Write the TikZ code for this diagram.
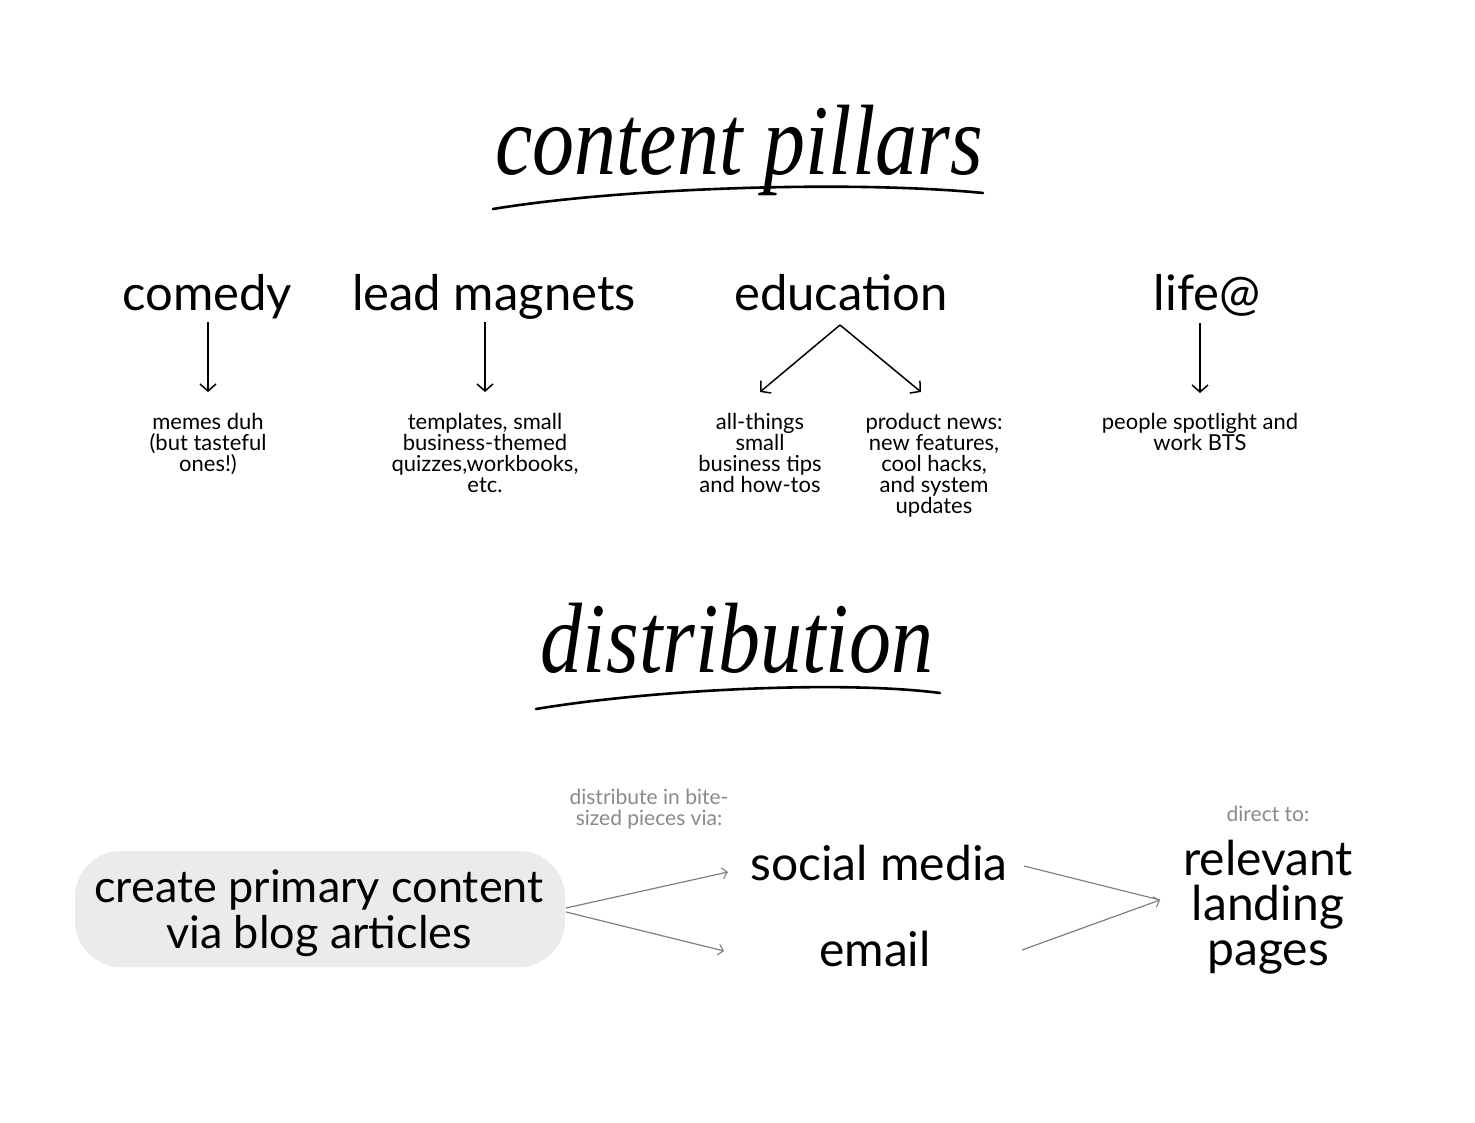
\documentclass[tikz,border=0pt]{standalone}
\usepackage{fontspec}
\setmainfont{Liberation Serif}
\newfontfamily\uifont{Lato}
\usetikzlibrary{arrows.meta}
\definecolor{boxgrey}{HTML}{EBEBEB}
\definecolor{linegrey}{HTML}{808080}
\definecolor{labelgrey}{HTML}{8A8A8A}
\tikzset{
  titletext/.style={font=\fontsize{100}{110}\selectfont\itshape, inner sep=0pt, anchor=base},
  pillar/.style={font=\uifont\fontsize{49}{52}\selectfont, inner sep=0pt, anchor=base},
  subtext/.style={font=\uifont\fontsize{22}{21}\selectfont, inner sep=0pt, align=center, anchor=north},
  greytext/.style={font=\uifont\fontsize{21}{21}\selectfont, text=labelgrey, inner sep=0pt, align=center, anchor=north},
  bigtext/.style={font=\uifont\fontsize{48}{45}\selectfont, inner sep=0pt, align=center},
  blogtext/.style={font=\uifont\fontsize{45}{46}\selectfont, inner sep=0pt, align=center},
  darrow/.style={draw=black, line width=1.5pt, -{Straight Barb[length=7pt,width=16pt,line width=1.5pt]}},
  garrow/.style={draw=linegrey, line width=1.2pt, -{Straight Barb[length=5pt,width=11pt,line width=1.1pt]}},
  gline/.style={draw=linegrey, line width=1.2pt},
  swash/.style={draw=black, line width=2.6pt, line cap=round},
}
\begin{document}
\begin{tikzpicture}[x=1pt,y=-1pt]
\useasboundingbox[fill=white] (0,0) rectangle (1475,1123);

% titles
\node[titletext] (t1) at (739,175) {\scalebox{0.84}[1]{content pillars}};
\draw[swash] (493,209) .. controls (620,188) and (850,180) .. (983,193);
\node[titletext] (t2) at (737,672) {\scalebox{0.84}[1]{distribution}};
\draw[swash] (536,709) .. controls (650,690) and (840,680) .. (940,693);

% pillar headings
\node[pillar] (comedy) at (207,310) {comedy};
\node[pillar] (lead) at (494,310) {lead magnets};
\node[pillar] (edu) at (841,310) {education};
\node[pillar] (life) at (1207,310) {life@};

% sub texts
\node[subtext] (memes) at (208,413) {memes duh\\(but tasteful\\ones!)};
\node[subtext] (templ) at (485,413) {templates, small\\business-themed\\quizzes,workbooks,\\etc.};
\node[subtext] (tips) at (760,413) {all-things\\small\\business tips\\and how-tos};
\node[subtext] (news) at (934,413) {product news:\\new features,\\cool hacks,\\and system\\updates};
\node[subtext] (people) at (1200,413) {people spotlight and\\work BTS};

% pillar arrows
\coordinate (c1) at (208,322);
\coordinate (c2) at (485,322);
\coordinate (c3) at (840,325);
\coordinate (c4) at (1200,323);
\draw[darrow] (c1) -- (208,392);
\draw[darrow] (c2) -- (485,392);
\draw[darrow] (c3) -- (760,392);
\draw[darrow] (c3) -- (921,392);
\draw[darrow] (c4) -- (1200,393);

% distribution
\node[fill=boxgrey, rounded corners=46pt, minimum width=490pt, minimum height=116pt, inner sep=0pt] (blog) at (320,909) {};
\node[blogtext, anchor=base] (blogtxt) at (319,902) {create primary content};
\node[blogtext, anchor=base] (blogtxt2) at (319,948) {via blog articles};
\node[greytext] (bite) at (649,789) {distribute in bite-\\sized pieces via:};
\node[bigtext, anchor=base] (social) at (879,880) {social media};
\node[bigtext, anchor=base] (email) at (875,966) {email};
\node[greytext] (direct) at (1268,806) {direct to:};
\node[bigtext, anchor=base] (land1) at (1268,875) {relevant};
\node[bigtext, anchor=base] (land2) at (1268,920) {landing};
\node[bigtext, anchor=base] (land3) at (1268,965) {pages};

\coordinate (s1) at (566,908);
\coordinate (s2) at (566,912);
\coordinate (e1) at (1024,866);
\coordinate (e2) at (1022,950);
\coordinate (lp) at (1160,900);
\draw[garrow] (s1) -- (728,872);
\draw[garrow] (s2) -- (724,951);
\draw[gline] (e1) -- (lp);
\draw[garrow] (e2) -- (lp);
\end{tikzpicture}
\end{document}
